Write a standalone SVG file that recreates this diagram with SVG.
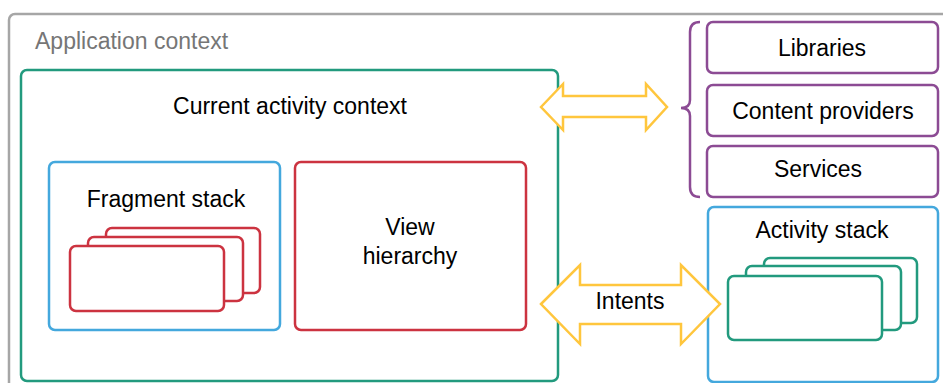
<svg xmlns="http://www.w3.org/2000/svg" width="943" height="383" viewBox="0 0 943 383">
<style>
text{font-family:"Liberation Sans",Arial,sans-serif;font-size:23px;fill:#000;text-anchor:middle}
.box{fill:#fff;stroke-width:2.5}
.g{stroke:#229a7e}.b{stroke:#44a8dd}.r{stroke:#cc3340}.p{stroke:#8c4b94}
.arrow{fill:#fff;stroke:#ffc63d;stroke-width:2.5;stroke-linejoin:miter}
</style>
<rect width="943" height="383" fill="#fff"/>
<g id="app-context">
<rect x="9" y="14" width="960" height="400" rx="6" fill="#fff" stroke="#a6a6a6" stroke-width="2.5"/>
<text x="35" y="49" style="text-anchor:start;fill:#767676">Application context</text>
</g>
<g id="current-activity">
<rect class="box g" x="21" y="70" width="537" height="311" rx="6"/>
<text x="290" y="114">Current activity context</text>
</g>
<g id="fragment-stack">
<rect class="box b" x="49" y="162" width="231" height="168" rx="6"/>
<text x="166" y="207">Fragment stack</text>
<rect class="box r" x="106" y="228" width="154" height="65" rx="6"/>
<rect class="box r" x="88" y="237" width="155" height="64" rx="6"/>
<rect class="box r" x="70" y="246" width="154" height="65" rx="6"/>
</g>
<g id="view-hierarchy">
<rect class="box r" x="295" y="162" width="231" height="168" rx="6"/>
<text x="410" y="235">View</text>
<text x="410" y="264">hierarchy</text>
</g>
<g id="libraries">
<rect class="box p" x="707" y="22" width="231" height="51" rx="6"/>
<text x="822" y="56">Libraries</text>
</g>
<g id="content-providers">
<rect class="box p" x="707" y="85" width="231" height="51" rx="6"/>
<text x="823" y="119">Content providers</text>
</g>
<g id="services">
<rect class="box p" x="707" y="146" width="231" height="51" rx="6"/>
<text x="818" y="177">Services</text>
</g>
<g id="activity-stack">
<rect class="box b" x="708" y="207" width="230" height="175" rx="6"/>
<text x="822" y="238">Activity stack</text>
<rect class="box g" x="764" y="258" width="153" height="65" rx="6"/>
<rect class="box g" x="746" y="266" width="155" height="64" rx="6"/>
<rect class="box g" x="728" y="276" width="154" height="64" rx="6"/>
</g>
<g id="connectors">
<path class="arrow" d="M541,107 L563,84 L563,96 L646,96 L646,84 L667,107 L646,130 L646,117 L563,117 L563,130 Z"/>
<path class="arrow" d="M541,304 L580,265 L580,285 L681,285 L681,265 L720,304 L681,344 L681,324 L580,324 L580,344 Z"/>
<text x="630" y="309">Intents</text>
<path d="M700,22 Q690,22 690,32 L690,100 Q690,108 681,108 Q690,108 690,116 L690,187 Q690,197 700,197" fill="none" stroke="#8c4b94" stroke-width="2.5"/>
</g>
</svg>
